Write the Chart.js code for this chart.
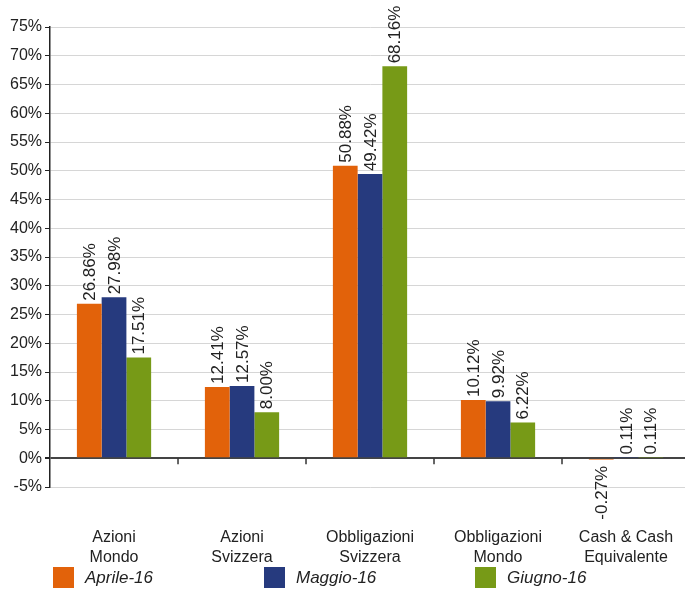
<!DOCTYPE html>
<html lang="it">
<head>
  <meta charset="UTF-8">
  <title>Allocazione</title>
  <script src="https://cdn.jsdelivr.net/npm/chart.js"></script>
  <style>
    body { margin: 0; background: white; overflow: hidden; }
    #wrap { position: relative; width: 690px; height: 592px; }
    #legend { position: absolute; left: 53px; top: 567px; display: flex; }
    #legend .item { width: 211px; display: flex; align-items: center; }
    #legend .box { width: 21px; height: 21px; margin-right: 11px; }
    #legend .txt { font: italic 17px "Liberation Sans", Arial, sans-serif; color: #222; }
  </style>
</head>
<body>
  <div id="wrap">
    <canvas id="chart" width="690" height="592"></canvas>
    <div id="legend"></div>
  </div>

  <script>
    const categories = [
      ['Azioni', 'Mondo'],
      ['Azioni', 'Svizzera'],
      ['Obbligazioni', 'Svizzera'],
      ['Obbligazioni', 'Mondo'],
      ['Cash & Cash', 'Equivalente']
    ];
    const seriesNames = ['Aprile-16', 'Maggio-16', 'Giugno-16'];
    const seriesColors = ['#e2620a', '#263a7e', '#779a17'];
    const aprile = [26.86, 12.41, 50.88, 10.12, -0.27];
    const maggio = [27.98, 12.57, 49.42, 9.92, 0.11];
    const giugno = [17.51, 8.00, 68.16, 6.22, 0.11];
    const yMin = -5, yMax = 75, yStep = 5;

    const FONT = '"Liberation Sans", Arial, sans-serif';

    // value labels, rotated, just past the end of each bar
    const barLabels = {
      id: 'barLabels',
      afterDatasetsDraw(chart) {
        const ctx = chart.ctx;
        ctx.save();
        ctx.font = '17px ' + FONT;
        ctx.fillStyle = '#222';
        ctx.textBaseline = 'middle';
        chart.data.datasets.forEach((ds, i) => {
          chart.getDatasetMeta(i).data.forEach((bar, j) => {
            const v = ds.data[j];
            ctx.save();
            ctx.translate(bar.x, v < 0 ? bar.y + 6 : bar.y - 3);
            ctx.rotate(-Math.PI / 2);
            ctx.textAlign = v < 0 ? 'right' : 'left';
            ctx.fillText(v.toFixed(2) + '%', 0, 1);
            ctx.restore();
          });
        });
        ctx.restore();
      }
    };

    // small tick marks between categories on the zero line
    const zeroTicks = {
      id: 'zeroTicks',
      afterDatasetsDraw(chart) {
        const x = chart.scales.x, y = chart.scales.y;
        const y0 = y.getPixelForValue(0);
        const ctx = chart.ctx;
        ctx.save();
        ctx.strokeStyle = '#333';
        ctx.lineWidth = 1.5;
        for (let i = 0; i < categories.length - 1; i++) {
          const px = (x.getPixelForTick(i) + x.getPixelForTick(i + 1)) / 2;
          ctx.beginPath();
          ctx.moveTo(px, y0);
          ctx.lineTo(px, y0 + 6);
          ctx.stroke();
        }
        ctx.restore();
      }
    };

    const datasets = [aprile, maggio, giugno].map((d, i) => ({
      label: seriesNames[i],
      data: d,
      backgroundColor: seriesColors[i],
      borderWidth: 0,
      categoryPercentage: 0.58,
      barPercentage: 1.0
    }));

    const chart = new Chart(document.getElementById('chart'), {
      type: 'bar',
      data: { labels: categories, datasets: datasets },
      options: {
        responsive: false,
        animation: false,
        layout: { padding: { left: 7, top: 27, right: 0, bottom: 24 } },
        plugins: {
          legend: { display: false },
          tooltip: { enabled: false }
        },
        scales: {
          x: {
            grid: { display: false, drawTicks: false },
            border: { display: false },
            ticks: {
              color: '#222',
              padding: 41,
              font: { family: FONT, size: 16, lineHeight: 1.25 }
            },
            // padding is counted twice by fit(); keep the box tight
            afterFit(scale) {
              scale.height = 81;
              scale.paddingLeft = 0;
              scale.paddingRight = 0;
            }
          },
          y: {
            min: yMin,
            max: yMax,
            border: { display: true, color: '#222', width: 1.5 },
            grid: {
              color: c => c.tick && c.tick.value === 0 ? '#444' : '#d6d6d6',
              lineWidth: c => c.tick && c.tick.value === 0 ? 2 : 1,
              tickColor: '#222',
              tickLength: 5
            },
            ticks: {
              stepSize: yStep,
              color: '#222',
              padding: 3,
              font: { family: FONT, size: 16 },
              callback: v => v + '%'
            }
          }
        }
      },
      plugins: [barLabels, zeroTicks]
    });

    const legendEl = document.getElementById('legend');
    chart.data.datasets.forEach(ds => {
      const item = document.createElement('div');
      item.className = 'item';
      const box = document.createElement('span');
      box.className = 'box';
      box.style.background = ds.backgroundColor;
      const txt = document.createElement('span');
      txt.className = 'txt';
      txt.textContent = ds.label;
      item.appendChild(box);
      item.appendChild(txt);
      legendEl.appendChild(item);
    });
  </script>
</body>
</html>
